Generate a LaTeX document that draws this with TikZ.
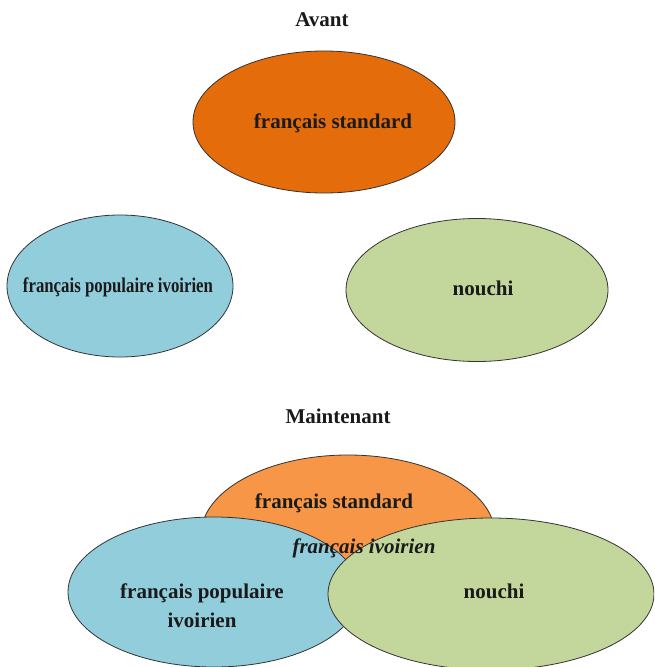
\documentclass[tikz,border=0pt]{standalone}
\usepackage{fontspec}
\setmainfont{Liberation Serif}
\usetikzlibrary{shapes.geometric}
\definecolor{orangeA}{HTML}{E46C0A}
\definecolor{orangeB}{HTML}{F79646}
\definecolor{blueA}{HTML}{92CDDC}
\definecolor{greenA}{HTML}{C3D69B}
\definecolor{txt}{HTML}{1A1A1A}
\tikzset{
  blob/.style={ellipse, draw=black!80, line width=0.8pt, inner sep=0pt},
  lbl/.style={font=\fontsize{21}{29}\selectfont\bfseries, text=txt, align=center, inner sep=0pt},
  ttl/.style={font=\fontsize{21}{25}\selectfont\bfseries, text=txt, inner sep=0pt},
}
\begin{document}
\begin{tikzpicture}[x=1pt,y=-1pt]
\useasboundingbox (0,0) rectangle (654,667);
\clip (0,0) rectangle (654,667);
\fill[white] (0,0) rectangle (654,667);
% Avant
\node[ttl] (avant) at (322,20) {Avant};
\node[blob, fill=orangeA, minimum width=262pt, minimum height=142pt] (fsA) at (324,122) {};
\node[blob, fill=blueA, minimum width=226pt, minimum height=142pt] (fpiA) at (120,286) {};
\node[blob, fill=greenA, minimum width=262pt, minimum height=143pt] (nA) at (477,290) {};
\node[lbl] (tfsA) at (333,123) {français standard};
\node[lbl] (tfpiA) at (118,287) {\scalebox{0.8}[1]{français populaire ivoirien}};
\node[lbl] (tnA) at (483,288) {nouchi};
% Maintenant
\node[ttl] (maint) at (338,416) {Maintenant};
\node[blob, fill=orangeB, minimum width=294pt, minimum height=160pt] (fsB) at (348,535) {};
\node[blob, fill=blueA, minimum width=292pt, minimum height=150pt] (fpiB) at (214,592) {};
\node[blob, fill=greenA, minimum width=326pt, minimum height=152pt] (nB) at (491,594) {};
\node[lbl] (tfsB) at (334,503) {français standard};
\node[lbl, font=\fontsize{21}{25}\selectfont\bfseries\itshape] (tfi) at (364,548) {français ivoirien};
\node[lbl] (tfpiB) at (202,606) {français populaire\\ivoirien};
\node[lbl] (tnB) at (494,591) {nouchi};
\end{tikzpicture}
\end{document}
